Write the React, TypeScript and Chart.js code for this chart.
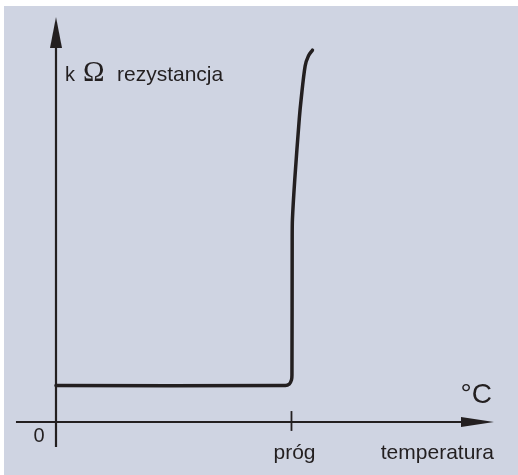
import React, { useEffect, useRef } from "react";
import { Chart, registerables } from "chart.js";

Chart.register(...registerables);

// Temperature (arbitrary units, threshold "próg" = 100) and resistance (arbitrary units)
const TEMP = [0, 97.4, 99.1, 100, 100.2, 100.3, 100.4, 101.4, 103.3, 104.1, 105.8, 107.2, 108.9];
const RES = [9, 9, 9.4, 10.4, 11.6, 45, 50, 59.9, 74.8, 79.7, 87.9, 90.4, 91.8];

const X_MIN = 0;
const X_MAX = 186;
const Y_MIN = 0;
const Y_MAX = 100;
const X_AXIS_START = -17;
const Y_AXIS_START = -6.2;
const THRESHOLD = 100;
const TICK_UP = 2.7;
const TICK_DOWN = -2.2;

const Y_LABEL_UNIT = "k";
const Y_LABEL_OMEGA = "Ω";
const Y_LABEL = "rezystancja";
const X_UNIT = "°C";
const X_LABEL = "temperatura";
const THRESHOLD_LABEL = "próg";
const ORIGIN_LABEL = "0";

const INK = "#231f20";
const PANEL = "rgb(207,212,226)";

const decor = {
  id: "decor",
  beforeDraw(chart: any) {
    const { ctx, width, height } = chart;
    ctx.save();
    ctx.fillStyle = "#ffffff";
    ctx.fillRect(0, 0, width, height);
    ctx.fillStyle = PANEL;
    ctx.fillRect(4, 6, width - 4, height - 6);
    ctx.restore();
  },
  beforeDatasetsDraw(chart: any) {
    const { ctx } = chart;
    const xs = chart.scales.x;
    const ys = chart.scales.y;
    const x0 = xs.getPixelForValue(0);
    const y0 = ys.getPixelForValue(0);
    const xEnd = xs.getPixelForValue(X_MAX);
    const yTop = ys.getPixelForValue(Y_MAX);
    ctx.save();
    ctx.strokeStyle = INK;
    ctx.fillStyle = INK;
    ctx.lineWidth = 2.2;
    // y axis
    ctx.beginPath();
    ctx.moveTo(x0, ys.getPixelForValue(Y_AXIS_START));
    ctx.lineTo(x0, yTop + 20);
    ctx.stroke();
    ctx.beginPath();
    ctx.moveTo(x0, yTop);
    ctx.lineTo(x0 - 6, yTop + 31);
    ctx.lineTo(x0 + 6, yTop + 31);
    ctx.closePath();
    ctx.fill();
    // x axis
    ctx.beginPath();
    ctx.moveTo(xs.getPixelForValue(X_AXIS_START), y0);
    ctx.lineTo(xEnd - 20, y0);
    ctx.stroke();
    ctx.beginPath();
    ctx.moveTo(xEnd, y0);
    ctx.lineTo(xEnd - 33, y0 - 5);
    ctx.lineTo(xEnd - 33, y0 + 5);
    ctx.closePath();
    ctx.fill();
    // threshold tick
    const tx = xs.getPixelForValue(THRESHOLD);
    ctx.lineWidth = 1.8;
    ctx.beginPath();
    ctx.moveTo(tx, ys.getPixelForValue(TICK_UP));
    ctx.lineTo(tx, ys.getPixelForValue(TICK_DOWN));
    ctx.stroke();
    ctx.restore();
  },
  afterDraw(chart: any) {
    const { ctx } = chart;
    const xs = chart.scales.x;
    const ys = chart.scales.y;
    const x0 = xs.getPixelForValue(0);
    const y0 = ys.getPixelForValue(0);
    const xEnd = xs.getPixelForValue(X_MAX);
    const yTop = ys.getPixelForValue(Y_MAX);
    ctx.save();
    ctx.fillStyle = INK;
    ctx.textBaseline = "alphabetic";
    const sans = "'Liberation Sans', Arial, sans-serif";
    // y label
    ctx.textAlign = "left";
    ctx.font = `20px ${sans}`;
    ctx.fillText(Y_LABEL_UNIT, x0 + 9, yTop + 64);
    ctx.font = `29px 'Liberation Serif', serif`;
    ctx.fillText(Y_LABEL_OMEGA, x0 + 27, yTop + 64);
    ctx.font = `21px ${sans}`;
    ctx.fillText(Y_LABEL, x0 + 61, yTop + 64);
    // origin
    ctx.font = `20px ${sans}`;
    ctx.textAlign = "center";
    ctx.fillText(ORIGIN_LABEL, x0 - 17, y0 + 20);
    // threshold label
    ctx.font = `21px ${sans}`;
    ctx.fillText(THRESHOLD_LABEL, xs.getPixelForValue(THRESHOLD) + 3, y0 + 37);
    // x label
    ctx.textAlign = "right";
    ctx.fillText(X_LABEL, xEnd, y0 + 37);
    ctx.font = `28px ${sans}`;
    ctx.fillText(X_UNIT, xEnd - 2, y0 - 19);
    ctx.restore();
  },
};

export default function App() {
  const ref = useRef<HTMLCanvasElement | null>(null);
  useEffect(() => {
    if (!ref.current) return;
    const chart = new Chart(ref.current, {
      type: "line",
      data: {
        datasets: [
          {
            data: TEMP.map((t, i) => ({ x: t, y: RES[i] })),
            borderColor: INK,
            borderWidth: 3.5,
            pointRadius: 0,
            tension: 0.3,
            fill: false,
            clip: false as any,
            borderCapStyle: "round",
            borderJoinStyle: "round",
          },
        ],
      },
      options: {
        responsive: false,
        animation: false,
        layout: { padding: { left: 56, right: 24, top: 17, bottom: 53 } },
        plugins: { legend: { display: false }, tooltip: { enabled: false } },
        scales: {
          x: { type: "linear", min: X_MIN, max: X_MAX, display: false },
          y: { type: "linear", min: Y_MIN, max: Y_MAX, display: false },
        },
      },
      plugins: [decor],
    });
    return () => chart.destroy();
  }, []);
  return (
    <div style={{ position: "absolute", left: 0, top: 0, width: 518, height: 475 }}>
      <canvas ref={ref} width={518} height={475} style={{ display: "block" }} />
    </div>
  );
}
